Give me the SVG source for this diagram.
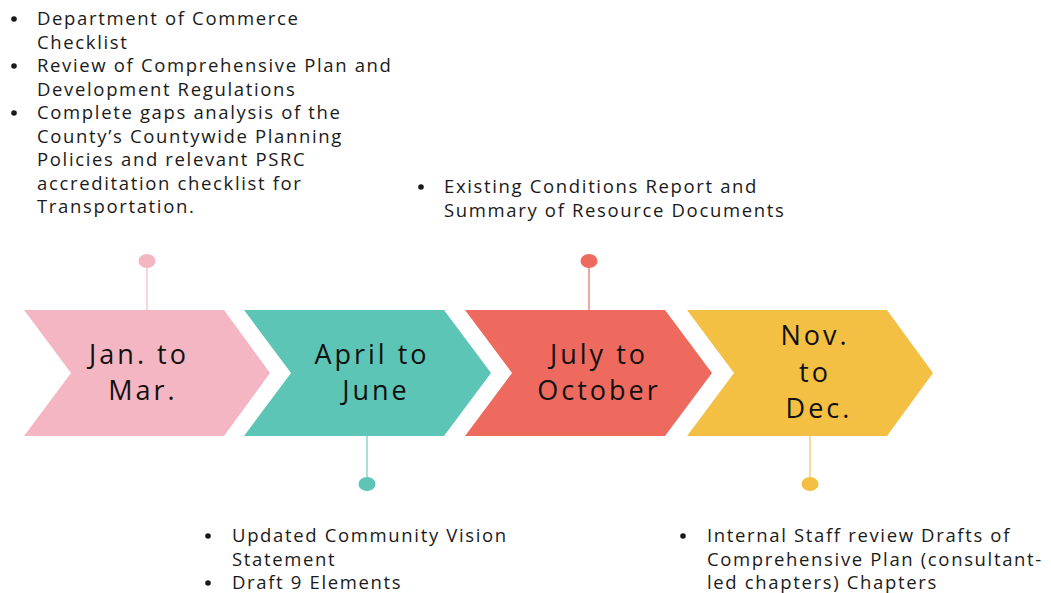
<svg xmlns="http://www.w3.org/2000/svg" width="1051" height="593" viewBox="0 0 1051 593">
<style>
.t{font-family:"Open Sans","Liberation Sans",sans-serif;font-size:18.5px;letter-spacing:1.65px;fill:#1a1a1a}
.c{font-family:"Open Sans","Liberation Sans",sans-serif;font-size:27px;letter-spacing:3px;fill:#111;text-anchor:middle}
.b{fill:#1a1a1a}
</style>
<rect width="1051" height="593" fill="#fff"/>
<g id="connectors">
<line x1="147" y1="262" x2="147" y2="310" stroke="#F6C7D0" stroke-width="1.5"/>
<line x1="589" y1="262" x2="589" y2="310" stroke="#EE8A80" stroke-width="1.5"/>
<line x1="367" y1="436" x2="367" y2="484" stroke="#8ED6CB" stroke-width="1.5"/>
<line x1="810" y1="436" x2="810" y2="484" stroke="#F6D07A" stroke-width="1.5"/>
<ellipse cx="147" cy="261" rx="8.5" ry="7" fill="#F4B6C2"/>
<ellipse cx="589" cy="261" rx="8.5" ry="7" fill="#EE6A5E"/>
<ellipse cx="367" cy="484" rx="8.5" ry="7" fill="#5CC5B6"/>
<ellipse cx="810" cy="484" rx="8.5" ry="7" fill="#F3C043"/>
</g>
<g id="node-jan">
<polygon points="24,310 224,310 270,373 224,436 24,436 71,373" fill="#F4B6C2"/>
<text class="c" x="139" y="364">Jan. to</text>
<text class="c" x="143" y="400">Mar.</text>
</g>
<g id="node-april">
<polygon points="244,310 444,310 491,373 444,436 244,436 291,373" fill="#5CC5B6"/>
<text class="c" x="372" y="364">April to</text>
<text class="c" x="376" y="400">June</text>
</g>
<g id="node-july">
<polygon points="465,310 665,310 712,373 665,436 465,436 512,373" fill="#EE6A5E"/>
<text class="c" x="599" y="364">July to</text>
<text class="c" x="599" y="400">October</text>
</g>
<g id="node-nov">
<polygon points="687,310 887,310 933,373 887,436 687,436 734,373" fill="#F3C043"/>
<text class="c" x="815" y="345">Nov.</text>
<text class="c" x="815" y="382">to</text>
<text class="c" x="819" y="418">Dec.</text>
</g>
<g id="notes-jan">
<circle class="b" cx="14" cy="19" r="2.8"/>
<circle class="b" cx="14" cy="66" r="2.8"/>
<circle class="b" cx="14" cy="113" r="2.8"/>
<text class="t" x="37" y="25">Department of Commerce</text>
<text class="t" x="37" y="48.5">Checklist</text>
<text class="t" x="37" y="72">Review of Comprehensive Plan and</text>
<text class="t" x="37" y="95.5">Development Regulations</text>
<text class="t" x="37" y="119">Complete gaps analysis of the</text>
<text class="t" x="37" y="142.5">County’s Countywide Planning</text>
<text class="t" x="37" y="166">Policies and relevant PSRC</text>
<text class="t" x="37" y="189.5">accreditation checklist for</text>
<text class="t" x="37" y="213">Transportation.</text>
</g>
<g id="notes-july">
<circle class="b" cx="421" cy="187" r="2.8"/>
<text class="t" x="444" y="193">Existing Conditions Report and</text>
<text class="t" x="444" y="217">Summary of Resource Documents</text>
</g>
<g id="notes-april">
<circle class="b" cx="208" cy="536" r="2.8"/>
<circle class="b" cx="208" cy="583" r="2.8"/>
<text class="t" x="232" y="542">Updated Community Vision</text>
<text class="t" x="232" y="566">Statement</text>
<text class="t" x="232" y="589">Draft 9 Elements</text>
</g>
<g id="notes-nov">
<circle class="b" cx="683" cy="536" r="2.8"/>
<text class="t" x="707" y="542">Internal Staff review Drafts of</text>
<text class="t" x="707" y="566">Comprehensive Plan (consultant-</text>
<text class="t" x="707" y="589">led chapters) Chapters</text>
</g>
</svg>
